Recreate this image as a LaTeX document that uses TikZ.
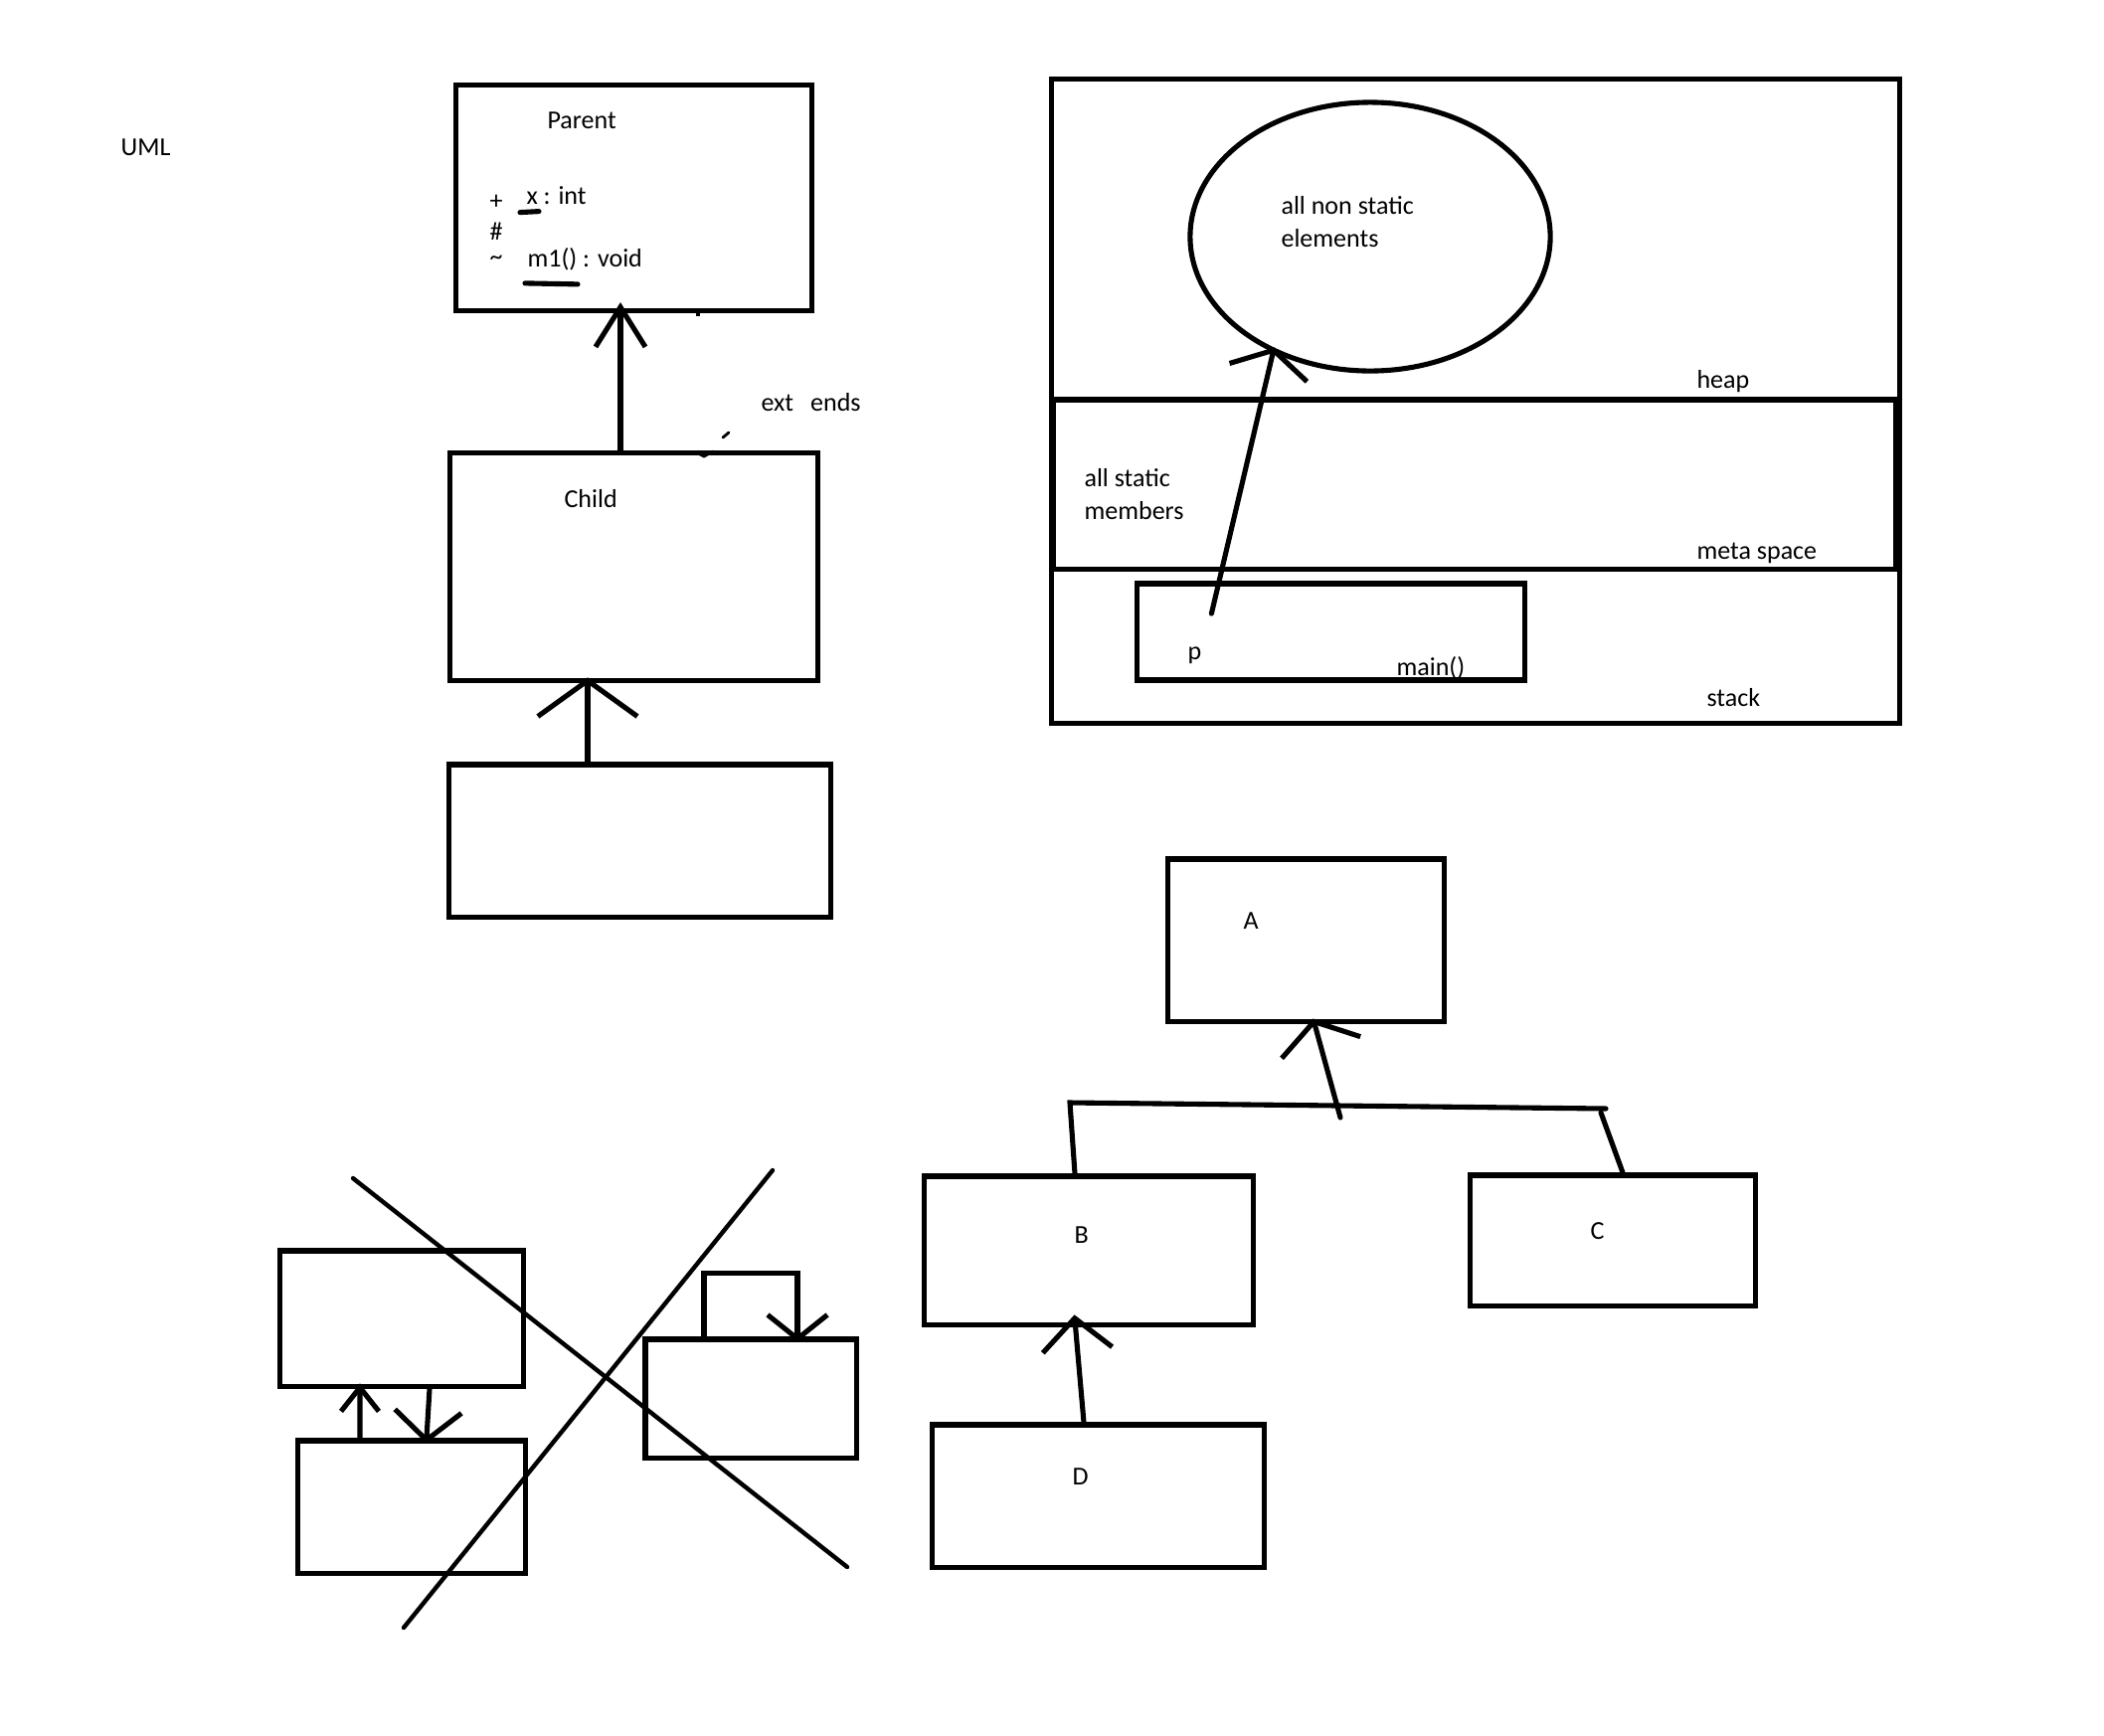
\documentclass[tikz,border=0pt]{standalone}
\usepackage{fontspec}
\setmainfont{Carlito}
\usetikzlibrary{positioning,arrows.meta,shapes.geometric}

\begin{document}
\begin{tikzpicture}[
    x=0.01cm, y=-0.01cm,
    line width=1.45pt,
    every node/.style={font=\fontsize{7.4}{9.2}\selectfont, inner sep=0pt},
    box/.style 2 args={
        draw, rectangle, minimum width=#1, minimum height=#2
    },
    txt/.style={anchor=west, align=left},
    arr/.style 2 args={-{Straight Barb[length=#1, width=#2]}, line cap=round,
        shorten >=-1.5pt},
    stroke/.style={line cap=round},
]
\useasboundingbox (0,0) rectangle (2116,1745);

% === UML: Parent / Child ===
\node[txt] (uml) at (119,148) {UML};

\node[box={3.57cm}{2.26cm}] (parent) at (637.5,199) {};
\node[txt] (parentname) at (548,121) {Parent};
\node[txt] (plus) at (490,203) {+};
\node[txt] (hash) at (490,233) {\#};
\node[txt] (tilde) at (490,262) {\textasciitilde};
\node[txt] (fieldx) at (527,197) {x : int};
\node[txt] (methm) at (528,261) {m1() : void};

% hand drawn underlines
\draw[stroke] ([shift={(-4,5)}]fieldx.south west) -- ++(19,-1);
\draw[stroke] ([shift={(0,10)}]methm.south west) -- ++(53,1);

\node[box={3.69cm}{2.28cm}] (child) at (637.5,570) {};
\node[txt] (childname) at (565,502) {Child};

\node[box={3.83cm}{1.53cm}] (sub) at (643.5,845.5) {};

\node[txt] (extends) at (763,405) {ext\hspace{0.17cm}ends};

% Inheritance arrows
\draw[arr={4mm}{5mm}, shorten >=-3pt] ([xshift=-0.135cm]child.north) -- ([xshift=-0.135cm]parent.south);
\draw[arr={3.6mm}{10mm}] ([xshift=-0.525cm]sub.north) -- ([xshift=-0.525cm]sub.north |- child.south);

% stray marks
\draw[stroke, line width=0.8pt] (700,455) -- (708,459) -- (717,454);
\draw[stroke, line width=0.8pt] (727,440) -- (733,435);
\draw[line width=1pt] (702,313) -- (702,318);

% === Memory: heap / meta space / stack ===
\node[box={8.52cm}{6.47cm}] (mem) at (1484,403.5) {};
\node[box={8.46cm}{1.70cm}] (meta) at (1483,487) {};
\node[draw, ellipse, minimum width=3.62cm, minimum height=2.70cm] (obj) at (1378,238) {};
\node[box={3.89cm}{0.97cm}] (mainbox) at (1338.5,635.5) {};

\node[txt] (nonstatic) at (1286,223) {all non static\\elements};
\node[txt] (heap) at (1704,384) {heap};
\node[txt] (static) at (1088,497) {all static\\members};
\node[txt] (metaspace) at (1704,556) {meta space};
\node[txt] (pvar) at (1192,659) {p};
\node[txt] (mainname) at (1402,672) {main()};
\node[txt] (stack) at (1714,702) {stack};

\draw[arr={2.3mm}{8mm}] ([shift={(17,-31)}]pvar.north) -- (obj.230);

% === Tree: A, B, C, D ===
\node[box={2.77cm}{1.63cm}] (A) at (1313.5,945.5) {};
\node[box={3.30cm}{1.49cm}] (B) at (1095,1257.5) {};
\node[box={2.86cm}{1.31cm}] (C) at (1622,1247.5) {};
\node[box={3.33cm}{1.43cm}] (D) at (1104.5,1504.5) {};

\node[txt] (Aname) at (1248,926) {A};
\node[txt] (Bname) at (1078,1242) {B};
\node[txt] (Cname) at (1597,1238) {C};
\node[txt] (Dname) at (1076,1485) {D};

\coordinate (busL) at (1076,1109);
\coordinate (busR) at (1615,1115);
\coordinate (busC) at (1610,1119);
\coordinate (busM) at (1348,1124);

\draw[stroke] ([xshift=-0.14cm]B.north) -- (busL) -- (busR);
\draw[stroke] ([xshift=0.1cm]C.north) -- (busC);
\draw[arr={2.7mm}{8.2mm}] (busM) -- ([xshift=0.085cm]A.south);
\draw[arr={3.2mm}{7mm}] ([xshift=-0.145cm]D.north) -- ([shift={(-14,-7)}]B.south);

% === Crossed out ===
\node[box={2.44cm}{1.36cm}] (L1) at (404,1326) {};
\node[box={2.28cm}{1.33cm}] (L2) at (414,1515.5) {};
\node[box={2.12cm}{1.19cm}] (L3) at (755,1406.5) {};

\draw[arr={2.4mm}{3.8mm}] ([xshift=-0.52cm]L2.north) -- ([xshift=-0.42cm]L1.south);
\draw[arr={2.9mm}{6.7mm}] ([xshift=0.28cm]L1.south) -- ([xshift=0.15cm]L2.north);
\draw[arr={2.4mm}{6mm}] ([xshift=-0.47cm]L3.north) -- ++(0,-64) -| ([xshift=0.47cm]L3.north);

\coordinate (crossA1) at (355,1185);
\coordinate (crossA2) at (852,1576);
\coordinate (crossB1) at (777,1177);
\coordinate (crossB2) at (406,1637);
\draw[stroke, line width=1.25pt] (crossA1) -- (crossA2);
\draw[stroke, line width=1.25pt] (crossB1) -- (crossB2);

\end{tikzpicture}
\end{document}
